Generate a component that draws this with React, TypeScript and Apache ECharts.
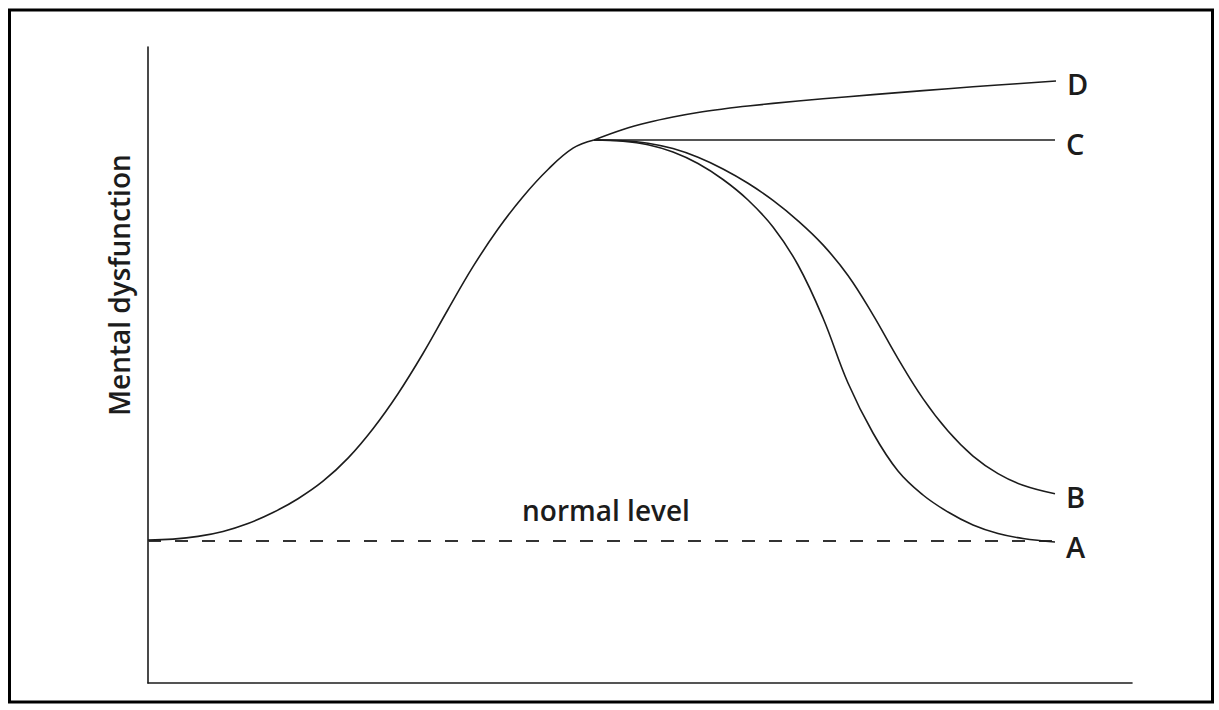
import React, { useEffect, useRef } from "react";
import * as echarts from "echarts";

// x: position along time (0..984), y: mental dysfunction level (0..636)
const riseCurve: number[][] = [
  [0, 143], [25, 143.9], [50, 146.6], [75, 151.6], [100, 159.5], [125, 170.5],
  [150, 184.3], [175, 201.8], [200, 224.9], [225, 254.3], [250, 289.3], [275, 329.5],
  [300, 373.5], [325, 416.3], [350, 454], [375, 486.3], [400, 513.5], [425, 534.8],
  [446, 543],
];
const curveD: number[][] = [
  [446, 543], [475, 553.5], [500, 560.5], [525, 566], [550, 570.5], [575, 574],
  [600, 577], [650, 582], [700, 586.3], [750, 590.4], [800, 594.3], [850, 598], [908, 602],
];
const curveC: number[][] = [[446, 543], [907, 543]];
const curveB: number[][] = [
  [446, 543], [475, 542.3], [500, 539.8], [525, 534.4], [550, 525.7], [575, 514],
  [600, 499.7], [625, 482.6], [650, 462.2], [675, 438.1], [700, 407.5], [725, 368.1],
  [750, 324.4], [775, 284.4], [800, 251.9], [825, 226.9], [850, 209.4], [875, 197.8],
  [907, 189.3],
];
const curveA: number[][] = [
  [446, 543], [475, 541.8], [500, 538.3], [525, 531], [550, 519.5], [575, 503.5],
  [600, 483], [625, 456], [650, 418], [675, 365], [700, 300], [725, 250], [750, 212],
  [775, 188], [800, 171], [825, 158], [850, 149.5], [875, 144.5], [907, 141],
];
const normalLevel: number[][] = [[0, 142], [907, 142]];

const yAxisTitle = "Mental dysfunction";
const normalLabel = "normal level";

const FONT = "'Open Sans', 'Liberation Sans', sans-serif";
const INK = "#1c1c1c";

export default function App() {
  const ref = useRef<HTMLDivElement>(null);
  useEffect(() => {
    document.body.style.margin = "0";
    if (!ref.current) return;
    const chart = echarts.init(ref.current, undefined, { renderer: "svg" });
    const lineStyle = { color: INK, width: 1.6 };
    const endLabel = (name: string, dy: number) => ({
      show: true,
      formatter: name,
      distance: 11,
      offset: [0, dy],
      fontSize: 29,
      fontWeight: 600,
      color: INK,
      fontFamily: FONT,
    });
    const mk = (name: string, data: number[][], label?: any) => ({
      name,
      type: "line",
      data,
      smooth: 0.4,
      showSymbol: false,
      symbol: "none",
      lineStyle,
      endLabel: label || { show: false },
      silent: true,
    });
    chart.setOption({
      animation: false,
      backgroundColor: "#ffffff",
      grid: { left: 148, top: 47, width: 984, height: 636 },
      xAxis: {
        type: "value",
        min: 0,
        max: 984,
        axisLine: { show: true, onZero: false, lineStyle: { color: INK, width: 1.6 } },
        axisTick: { show: false },
        axisLabel: { show: false },
        splitLine: { show: false },
      },
      yAxis: {
        type: "value",
        min: 0,
        max: 636,
        axisLine: { show: true, onZero: false, lineStyle: { color: INK, width: 1.6 } },
        axisTick: { show: false },
        axisLabel: { show: false },
        splitLine: { show: false },
      },
      series: [
        {
          name: "normal",
          type: "line",
          data: normalLevel,
          showSymbol: false,
          symbol: "none",
          silent: true,
          lineStyle: { color: "#333", width: 2, type: [13, 14] },
        },
        mk("rise", riseCurve),
        mk("D", curveD, endLabel("D", 2)),
        mk("C", curveC, endLabel("C", 3)),
        mk("B", curveB, endLabel("B", 3)),
        mk("A", curveA, endLabel("A", 4)),
      ],
      graphic: [
        {
          type: "rect",
          shape: { x: 9.5, y: 10, width: 1203, height: 692 },
          style: { fill: "none", stroke: "#000", lineWidth: 3 },
          silent: true,
        },
        {
          type: "text",
          x: 119,
          y: 285,
          rotation: Math.PI / 2,
          style: {
            text: yAxisTitle,
            fontSize: 28,
            fontWeight: 600,
            fontFamily: FONT,
            fill: INK,
            align: "center",
            verticalAlign: "middle",
          },
        },
        {
          type: "text",
          x: 606,
          y: 510,
          style: {
            text: normalLabel,
            fontSize: 28,
            fontWeight: 600,
            fontFamily: FONT,
            fill: INK,
            align: "center",
            verticalAlign: "middle",
          },
        },
      ],
    });
    return () => chart.dispose();
  }, []);
  return <div ref={ref} style={{ width: 1219, height: 710 }} />;
}
